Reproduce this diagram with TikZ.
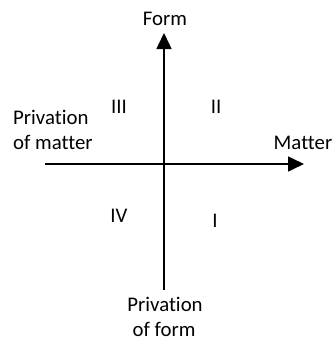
\documentclass[tikz,border=0pt]{standalone}
\usepackage{fontspec}
\setmainfont{Carlito}[Ligatures={NoCommon}]
\usetikzlibrary{arrows.meta}
\newcommand{\nti}{t\kern0pt i}
\begin{document}
\begin{tikzpicture}[x=1pt,y=-1pt,
  lbl/.style={inner sep=0pt,anchor=base,font=\fontsize{20.8}{26}\selectfont},
  axis/.style={line width=1.6pt,-{Triangle[length=16pt,width=15pt]}}]
\useasboundingbox (0,0) rectangle (334,341);
\coordinate (vb) at (164,290);
\coordinate (vt) at (164,33);
\coordinate (hl) at (45,164);
\coordinate (hr) at (304,164);
\draw[axis] (vb) -- (vt);
\draw[axis] (hl) -- (hr);
\node[lbl] (form) at (165,25) {Form};
\node[lbl] (matter) at (303,149) {Matter};
\node[lbl,anchor=base west] (pm1) at (13,124) {Priva\nti on};
\node[lbl,anchor=base west] (pm2) at (13,149) {of matter};
\node[lbl] (pf1) at (165,311) {Priva\nti on};
\node[lbl] (pf2) at (164,336) {of form};
\node[lbl] (q3) at (119,113) {III};
\node[lbl] (q2) at (216,113) {II};
\node[lbl] (q4) at (119,222.7) {IV};
\node[lbl] (q1) at (215,227.3) {I};
\end{tikzpicture}
\end{document}
